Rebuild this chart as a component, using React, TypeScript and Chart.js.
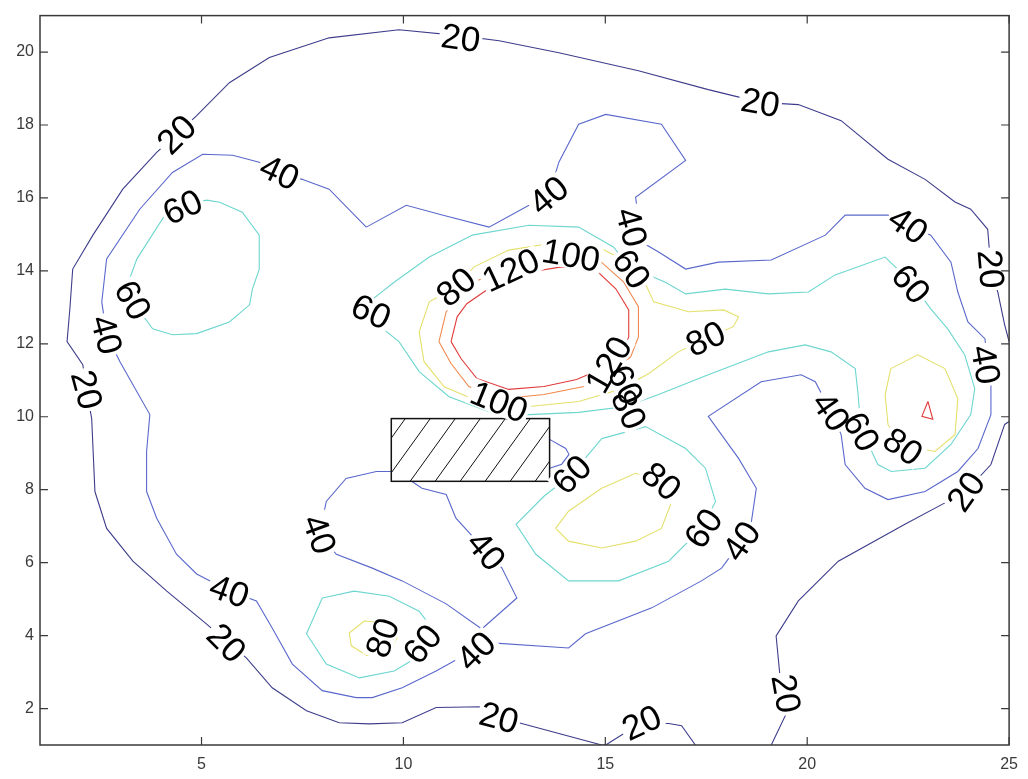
import React, { useEffect, useRef } from "react";
import { Chart, registerables } from "chart.js";

Chart.register(...registerables);

type P = [number, number];

// ---- axes ----
const xRange = [1, 25];
const yRange = [1, 21];
const xTicks = [5, 10, 15, 20, 25];
const yTicks = [2, 4, 6, 8, 10, 12, 14, 16, 18, 20];

// ---- contour levels and colours ----
const levelColors: Record<number, string> = {
  20: "#3d3d8c",
  40: "#5a68cc",
  60: "#6cd6cf",
  80: "#e4e06c",
  100: "#f0884e",
  120: "#e03a3a",
};

// ---- contour paths (data coordinates) ----
const level20Main: P[] = [
  [17.23, 1.0], [16.89, 1.53], [16.57, 1.59], [15.9, 1.59], [15.58, 1.4], [15.01, 1.0],
  [14.91, 1.0], [12.86, 1.61], [12.37, 1.75], [11.94, 2.05], [10.81, 2.03], [9.97, 1.61],
  [9.15, 1.58], [8.41, 1.61], [7.6, 1.94], [6.75, 2.57], [6.11, 3.39], [5.62, 3.85],
  [5.12, 4.32], [4.14, 5.22], [3.3, 6.04], [2.65, 6.94], [2.36, 7.95], [2.28, 9.95],
  [2.16, 10.69], [2.06, 11.43], [1.67, 12.06], [1.74, 12.96], [1.81, 14.05], [2.31, 14.98],
  [3.05, 16.24], [3.89, 17.25], [4.38, 17.74], [4.88, 18.26], [5.69, 19.16], [6.68, 19.85],
  [8.16, 20.39], [9.89, 20.61], [11.38, 20.45], [12.37, 20.31], [13.85, 19.98], [15.82, 19.49],
  [17.55, 18.97], [18.84, 18.62], [19.78, 18.56], [20.84, 18.12], [22.0, 17.06], [22.92, 16.51],
  [23.66, 15.89], [24.05, 15.69], [24.47, 15.14], [24.55, 14.05], [24.72, 13.42], [24.89, 12.52],
  [25.0, 12.06],
];
const level20Right: P[] = [
  [25.0, 9.87], [24.89, 9.79], [24.55, 8.69], [23.93, 7.95], [23.48, 7.68], [22.42, 7.05],
  [20.77, 6.04], [19.78, 4.95], [19.23, 3.99], [19.33, 2.84], [19.48, 1.86], [19.11, 1.0],
];

const level40Outer: P[] = [
  [9.08, 15.2], [8.16, 16.24], [7.49, 16.51], [6.93, 16.7], [6.43, 16.98], [5.77, 17.17],
  [5.03, 17.2], [4.28, 16.7], [3.47, 15.69], [2.65, 14.33], [2.53, 13.15], [2.65, 12.25],
  [2.98, 11.51], [3.72, 10.06], [3.64, 9.05], [3.64, 7.95], [3.89, 7.22], [4.38, 6.23],
  [4.88, 5.69], [5.69, 5.22], [6.36, 4.95], [6.75, 4.21], [7.25, 3.22], [7.99, 2.49],
  [8.83, 2.3], [9.23, 2.3], [9.97, 2.57], [10.81, 3.03], [11.7, 3.58], [12.19, 3.8],
  [14.09, 3.66], [14.51, 4.05], [16.15, 4.76], [17.38, 5.5], [17.88, 5.85], [18.37, 6.59],
  [18.62, 7.14], [18.74, 8.04], [18.3, 8.86], [17.55, 10.01], [18.86, 10.96], [19.85, 11.15],
  [20.2, 10.96], [20.59, 10.14], [20.84, 9.51], [20.94, 8.69], [21.43, 8.04], [22.0, 7.73],
  [22.92, 7.95], [23.73, 8.5], [24.23, 9.13], [24.55, 10.06], [24.55, 10.96], [24.4, 12.14],
  [23.98, 12.6], [23.73, 13.42], [23.56, 14.24], [23.06, 14.98], [22.5, 15.25], [22.0, 15.53],
  [20.94, 15.53], [20.45, 14.98], [19.11, 14.3], [17.8, 14.24], [16.99, 14.05], [16.32, 14.52],
  [15.9, 14.79], [15.75, 16.02], [16.99, 17.03], [16.39, 18.02], [15.01, 18.29], [14.34, 18.02],
  [13.85, 16.98], [13.6, 16.07], [13.11, 15.8], [12.12, 15.2], [10.96, 15.53], [10.07, 15.8],
  [9.08, 15.2],
];
const level40Valley: P[] = [
  [7.92, 6.78], [8.09, 7.68], [8.58, 8.31], [9.33, 8.5], [9.7, 8.5], [10.14, 8.28],
  [10.46, 8.04], [11.06, 7.87], [11.3, 7.22], [12.04, 6.32], [12.44, 5.85], [12.81, 5.03],
  [11.94, 4.18], [11.06, 4.87], [9.97, 5.5], [9.23, 5.85], [8.34, 6.23], [7.92, 6.78],
];
const level40Bump: P[] = [
  [13.62, 9.38], [14.02, 9.13], [14.1, 8.97], [13.92, 8.7], [13.62, 8.59],
];

const level60TopLeft: P[] = [
  [5.13, 15.94], [4.53, 15.8], [4.14, 15.61], [3.4, 14.33], [3.22, 13.78], [3.3, 13.15],
  [3.79, 12.41], [4.28, 12.25], [4.88, 12.28], [5.69, 12.6], [6.19, 13.07], [6.26, 13.5],
  [6.43, 14.05], [6.43, 14.98], [6.01, 15.61], [5.45, 15.88], [5.13, 15.94],
];
const level60Center: P[] = [
  [11.7, 14.98], [10.64, 14.38], [9.77, 13.69], [9.15, 13.15], [9.28, 12.6], [9.89, 12.06],
  [10.39, 11.24], [11.13, 10.55], [12.12, 10.14], [13.11, 10.06], [14.34, 10.12], [15.5, 10.28],
  [16.32, 10.61], [17.55, 11.15], [19.04, 11.78], [19.95, 11.97], [20.59, 11.78], [21.19, 11.32],
  [21.26, 10.61], [21.33, 9.68], [21.75, 8.69], [22.08, 8.5], [22.92, 8.59], [23.56, 9.24],
  [24.05, 10.06], [24.15, 10.77], [23.9, 11.7], [23.48, 12.41], [23.06, 12.96], [22.57, 13.69],
  [21.93, 14.38], [20.69, 13.89], [20.03, 13.42], [19.04, 13.37], [17.97, 13.5], [16.99, 13.37],
  [16.49, 13.69], [15.58, 14.11], [15.21, 14.65], [14.34, 15.2], [13.11, 15.25], [11.7, 14.98],
];
const level60Lower: P[] = [
  [14.91, 9.4], [16.0, 9.73], [16.99, 9.13], [17.48, 8.59], [17.73, 7.68], [17.38, 6.94],
  [16.57, 6.04], [15.33, 5.5], [14.09, 5.5], [13.28, 6.23], [12.79, 7.05], [13.48, 7.82],
  [14.17, 8.42], [14.91, 9.4],
];
const level60BottomLeft: P[] = [
  [7.99, 5.03], [7.6, 4.05], [8.09, 3.22], [8.91, 2.84], [9.77, 3.03], [10.39, 3.44],
  [10.76, 4.13], [10.39, 4.67], [9.65, 5.08], [8.78, 5.22], [7.99, 5.03],
];

const level80Center: P[] = [
  [11.3, 13.56], [10.64, 13.15], [10.39, 12.33], [10.51, 11.51], [11.01, 10.82], [11.87, 10.42],
  [13.11, 10.28], [14.34, 10.42], [15.33, 10.74], [16.07, 11.18], [16.81, 11.78], [17.48, 12.14],
  [18.17, 12.47], [18.3, 12.74], [17.93, 12.93], [17.06, 12.88], [16.2, 13.15], [15.95, 13.75],
  [15.45, 14.3], [14.84, 14.65], [13.85, 14.79], [12.61, 14.57], [11.75, 14.11], [11.3, 13.56],
];
const level80Lower: P[] = [
  [13.77, 6.94], [14.09, 7.41], [14.91, 8.04], [15.75, 8.45], [16.39, 8.23], [16.62, 7.6],
  [16.39, 6.94], [15.75, 6.59], [14.91, 6.4], [14.09, 6.59], [13.77, 6.94],
];
const level80BottomLeft: P[] = [
  [8.66, 4.07], [9.03, 4.4], [9.52, 4.35], [9.84, 3.94], [9.64, 3.53], [9.1, 3.45],
  [8.71, 3.72], [8.66, 4.07],
];
const level80Right: P[] = [
  [22.07, 11.32], [22.74, 11.7], [23.41, 11.32], [23.73, 10.5], [23.66, 9.51], [23.16, 9.05],
  [22.32, 9.24], [22.0, 9.79], [21.93, 10.61], [22.07, 11.32],
];

const level100Center: P[] = [
  [10.88, 12.06], [11.06, 12.88], [11.3, 13.21], [11.87, 13.75], [12.86, 14.19], [13.85, 14.38],
  [14.84, 14.3], [15.45, 13.7], [15.82, 13.02], [15.82, 12.19], [15.63, 11.65], [15.21, 11.24],
  [14.47, 10.83], [13.48, 10.61], [12.49, 10.5], [11.62, 10.83], [11.18, 11.46], [10.88, 12.06],
];
const level120Center: P[] = [
  [11.18, 12.06], [11.33, 12.74], [11.57, 13.1], [12.17, 13.56], [12.98, 13.94], [13.92, 14.11],
  [14.76, 14.03], [15.26, 13.51], [15.58, 12.93], [15.58, 12.19], [15.4, 11.73], [14.98, 11.35],
  [14.29, 11.02], [13.48, 10.83], [12.61, 10.75], [11.82, 11.05], [11.43, 11.59], [11.18, 12.06],
];
const level120Right: P[] = [
  [22.99, 10.42], [23.11, 9.93], [22.84, 10.01], [22.99, 10.42],
];

const contourLevels = [20, 20, 40, 40, 40, 60, 60, 60, 60, 80, 80, 80, 80, 100, 120, 120];
const contourPaths: P[][] = [
  level20Main, level20Right,
  level40Outer, level40Valley, level40Bump,
  level60TopLeft, level60Center, level60Lower, level60BottomLeft,
  level80Center, level80Lower, level80BottomLeft, level80Right,
  level100Center,
  level120Center, level120Right,
];

// ---- inline contour labels ----
const labelText = [
  "20", "20", "20", "40", "60", "60", "40", "20", "40", "40", "60", "100", "120", "80",
  "60", "80", "120", "60", "80", "100", "40", "60", "20", "40", "40", "60", "80", "20",
  "60", "80", "60", "40", "40", "40", "40", "20", "80", "60", "40", "20", "20", "20",
];
const labelX = [
  11.42, 18.84, 4.38, 6.93, 4.53, 3.3, 2.65, 2.16, 13.6, 15.65, 15.65, 14.15, 12.66, 11.3,
  9.2, 17.48, 15.08, 15.5, 15.58, 12.37, 22.5, 22.57, 24.55, 24.42, 20.59, 21.34, 22.37, 23.93,
  14.17, 16.39, 17.43, 18.37, 7.92, 12.05, 5.69, 5.62, 9.48, 10.47, 11.8, 12.37, 15.9, 19.48,
];
const labelY = [
  20.39, 18.62, 17.74, 16.7, 15.75, 13.2, 12.25, 10.74, 16.07, 15.2, 14.05, 14.43, 14.02, 13.56,
  12.88, 12.14, 11.43, 10.88, 10.2, 10.41, 15.25, 13.64, 14.05, 11.43, 10.14, 9.59, 9.18, 7.95,
  8.42, 8.23, 6.94, 6.59, 6.78, 6.32, 5.22, 3.8, 3.94, 3.77, 3.58, 1.75, 1.61, 2.41,
];
const labelAngle = [
  8, 10, -45, 25, -25, 60, 75, 75, -40, 75, 55, 10, -25, -40,
  25, -25, -60, 65, 65, 22, 35, 50, 85, 80, 55, 60, 35, -55,
  -45, 40, -55, -55, 70, 50, 20, 45, -70, -50, -45, 15, -25, 80,
];

// ---- hatched obstacle (data coordinates) ----
const obstacleX = [9.7, 13.62];
const obstacleY = [8.23, 9.95];

const FONT = '"Liberation Sans", Arial, Helvetica, sans-serif';

const overlayPlugin = {
  id: "overlay",
  afterDatasetsDraw(chart: any) {
    const { ctx, chartArea, scales } = chart;
    const xs = scales.x;
    const ys = scales.y;

    // hatched rectangle
    const rx0 = xs.getPixelForValue(obstacleX[0]);
    const rx1 = xs.getPixelForValue(obstacleX[1]);
    const ry0 = ys.getPixelForValue(obstacleY[1]);
    const ry1 = ys.getPixelForValue(obstacleY[0]);
    ctx.save();
    ctx.fillStyle = "#ffffff";
    ctx.fillRect(rx0, ry0, rx1 - rx0, ry1 - ry0);
    ctx.beginPath();
    ctx.rect(rx0, ry0, rx1 - rx0, ry1 - ry0);
    ctx.clip();
    ctx.strokeStyle = "#111";
    ctx.lineWidth = 1;
    const h = ry1 - ry0;
    const slant = h * 0.72;
    for (let s = rx0 - slant + 14; s < rx1 + slant; s += 25) {
      ctx.beginPath();
      ctx.moveTo(s, ry1);
      ctx.lineTo(s + slant, ry0);
      ctx.stroke();
    }
    ctx.restore();
    ctx.save();
    ctx.strokeStyle = "#111";
    ctx.lineWidth = 1.5;
    ctx.strokeRect(rx0, ry0, rx1 - rx0, ry1 - ry0);
    ctx.restore();

    // labels: backgrounds first, then text
    const fs = 35;
    ctx.save();
    ctx.font = `${fs}px ${FONT}`;
    ctx.textAlign = "center";
    ctx.textBaseline = "middle";
    for (let i = 0; i < labelText.length; i++) {
      const px = xs.getPixelForValue(labelX[i]);
      const py = ys.getPixelForValue(labelY[i]);
      const w = ctx.measureText(labelText[i]).width;
      ctx.save();
      ctx.translate(px, py);
      ctx.rotate((labelAngle[i] * Math.PI) / 180);
      ctx.fillStyle = "#ffffff";
      ctx.fillRect(-w / 2 - 2, -fs * 0.38, w + 4, fs * 0.76);
      ctx.restore();
    }
    ctx.fillStyle = "#000000";
    for (let i = 0; i < labelText.length; i++) {
      const px = xs.getPixelForValue(labelX[i]);
      const py = ys.getPixelForValue(labelY[i]);
      ctx.save();
      ctx.translate(px, py);
      ctx.rotate((labelAngle[i] * Math.PI) / 180);
      ctx.fillText(labelText[i], 0, 2);
      ctx.restore();
    }
    ctx.restore();

    // frame and inward ticks
    ctx.save();
    ctx.strokeStyle = "#3a3a3a";
    ctx.lineWidth = 1.5;
    ctx.strokeRect(chartArea.left, chartArea.top, chartArea.right - chartArea.left, chartArea.bottom - chartArea.top);
    ctx.lineWidth = 1.2;
    const tl = 8;
    ctx.beginPath();
    for (const v of xTicks) {
      const px = xs.getPixelForValue(v);
      ctx.moveTo(px, chartArea.bottom);
      ctx.lineTo(px, chartArea.bottom - tl);
      ctx.moveTo(px, chartArea.top);
      ctx.lineTo(px, chartArea.top + tl);
    }
    for (const v of yTicks) {
      const py = ys.getPixelForValue(v);
      ctx.moveTo(chartArea.left, py);
      ctx.lineTo(chartArea.left + tl, py);
      ctx.moveTo(chartArea.right, py);
      ctx.lineTo(chartArea.right - tl, py);
    }
    ctx.stroke();
    ctx.restore();
  },
};

export default function App() {
  const ref = useRef<HTMLCanvasElement>(null);

  useEffect(() => {
    if (!ref.current) return;
    const datasets = contourPaths.map((path, i) => ({
      data: path.map(([x, y]) => ({ x, y })),
      showLine: true,
      borderColor: levelColors[contourLevels[i]],
      backgroundColor: levelColors[contourLevels[i]],
      borderWidth: 1.1,
      pointRadius: 0,
      pointHoverRadius: 0,
      tension: 0,
      fill: false,
    }));

    const chart = new Chart(ref.current, {
      type: "scatter",
      data: { datasets },
      options: {
        animation: false,
        responsive: true,
        maintainAspectRatio: false,
        events: [],
        layout: { padding: { left: 8, top: 13, right: 17, bottom: 0 } },
        plugins: { legend: { display: false }, tooltip: { enabled: false } },
        scales: {
          x: {
            type: "linear",
            min: xRange[0],
            max: xRange[1],
            grid: { display: false, drawTicks: false },
            border: { display: false },
            ticks: {
              color: "#3a3a3a",
              font: { size: 16, family: FONT },
              padding: 10,
              maxRotation: 0,
              autoSkip: false,
              callback: (v: any) => String(v),
            },
            afterBuildTicks: (axis: any) => {
              axis.ticks = xTicks.map((v) => ({ value: v }));
            },
            afterFit: (axis: any) => {
              axis.height = 34;
            },
          },
          y: {
            type: "linear",
            min: yRange[0],
            max: yRange[1],
            grid: { display: false, drawTicks: false },
            border: { display: false },
            ticks: {
              color: "#3a3a3a",
              font: { size: 16, family: FONT },
              padding: 6,
              autoSkip: false,
              callback: (v: any) => String(v),
            },
            afterBuildTicks: (axis: any) => {
              axis.ticks = yTicks.map((v) => ({ value: v }));
            },
            afterFit: (axis: any) => {
              axis.width = 32;
            },
          },
        },
      },
      plugins: [overlayPlugin],
    } as any);

    return () => chart.destroy();
  }, []);

  return (
    <div style={{ position: "absolute", left: 0, top: 0, width: 1028, height: 779, background: "#fff" }}>
      <canvas ref={ref} />
    </div>
  );
}
